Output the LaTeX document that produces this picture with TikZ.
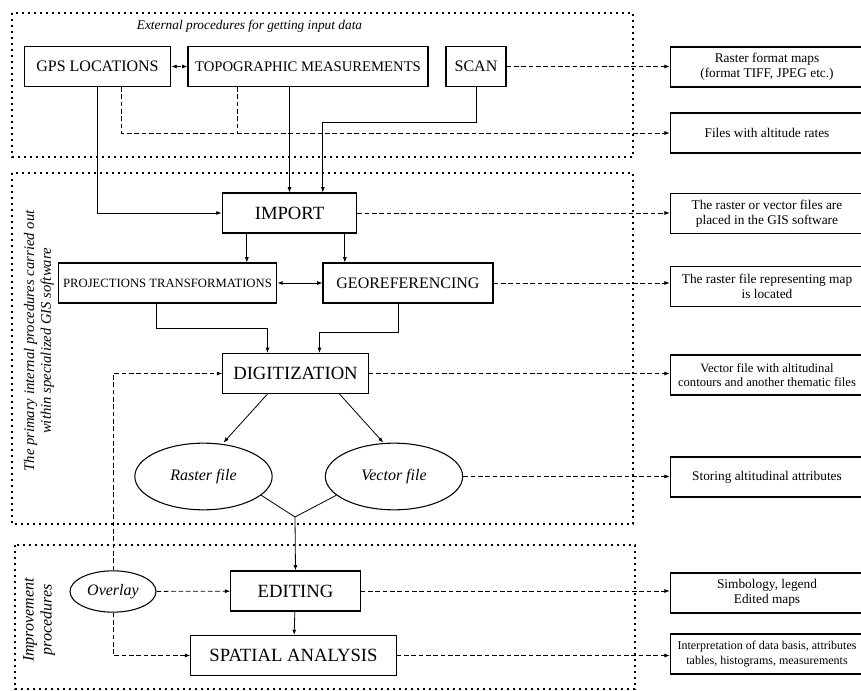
\documentclass[tikz,border=0pt]{standalone}
\usepackage{fontspec}
\setmainfont{Liberation Serif}
\usetikzlibrary{arrows.meta,shapes.geometric}
\tikzset{
  box/.style={draw, line width=0.8pt, minimum height=30pt, inner sep=1pt},
  mid/.style={box, font=\fontsize{12}{14}\selectfont},
  big/.style={box, font=\fontsize{14}{16}\selectfont},
  note/.style={draw, line width=0.8pt, align=center, minimum width=145pt, minimum height=30pt, inner sep=1pt, font=\fontsize{10}{11.5}\selectfont},
  oval/.style={draw, ellipse, line width=0.8pt, inner sep=0pt, font=\fontsize{12}{14}\selectfont\itshape},
  arr/.style={line width=0.6pt, -{Latex[length=4pt,width=3pt]}},
  twoway/.style={line width=0.6pt, {Latex[length=4pt,width=3pt]}-{Latex[length=4pt,width=3pt]}},
  dsh/.style={line width=0.6pt, dash pattern=on 3.5pt off 2pt},
  region/.style={line width=1.6pt, dash pattern=on 1.8pt off 2.7pt},
}
\begin{document}
\begin{tikzpicture}[x=0.75pt,y=-0.75pt]
% units are px of an 861 x 691 sheet, y counted downwards
\useasboundingbox (0,0) rectangle (861,691);
\draw[region] (12,13) rectangle (633,157);
\draw[region] (12,173) rectangle (633,524);
\draw[region] (15,545) rectangle (635,689);
\node[font=\fontsize{10}{12}\selectfont\itshape] (ttl) at (249.5,26) {External procedures for getting input data};
\node[rotate=90, align=center, font=\fontsize{11}{12.5}\selectfont\itshape] (lblgis) at (39,341) {The primary internal procedures carried out\\within specialized GIS software};
\node[rotate=90, align=center, font=\fontsize{12}{13.5}\selectfont\itshape] (lblimp) at (39,620) {Improvement\\procedures};
% input data
\node[mid, minimum width=110pt] (gps) at (97.5,66.5) {GPS LOCATIONS};
\node[box, minimum width=180pt, font=\fontsize{11}{13}\selectfont] (topo) at (308,66.5) {TOPOGRAPHIC MEASUREMENTS};
\node[mid, minimum width=45pt] (scan) at (476,66.5) {SCAN};
% GIS software
\node[big, minimum width=101pt] (import) at (289.5,213) {IMPORT};
\node[box, minimum width=164pt, font=\fontsize{9.5}{11}\selectfont] (proj) at (167.5,283) {PROJECTIONS TRANSFORMATIONS};
\node[mid, minimum width=127.5pt] (geo) at (408,283) {GEOREFERENCING};
\node[big, minimum width=109pt] (digit) at (295.5,373.5) {DIGITIZATION};
\node[oval, minimum width=103pt, minimum height=50pt] (raster) at (203.5,476.5) {Raster file};
\node[oval, minimum width=103pt, minimum height=50pt] (vector) at (394,476.5) {Vector file};
\coordinate (jn) at (295,517);
% improvement
\node[oval, minimum width=64.5pt, minimum height=31pt] (overlay) at (113,591.5) {Overlay};
\node[big, minimum width=97pt] (edit) at (295.5,591) {EDITING};
\node[big, minimum width=154pt] (spatial) at (293.5,655.5) {SPATIAL ANALYSIS};
% results on the right
\node[note] (r1) at (767,67) {Raster format maps\\(format TIFF, JPEG etc.)};
\node[note] (r2) at (767,133) {Files with altitude rates};
\node[note] (r3) at (767,213.5) {The raster or vector files are\\placed in the GIS software};
\node[note] (r4) at (767,286.5) {The raster file representing map\\is located};
\node[note, font=\fontsize{9.5}{11}\selectfont] (r5) at (767,375) {Vector file with altitudinal\\contours and another thematic files};
\node[note] (r6) at (767,477) {Storing altitudinal attributes};
\node[note] (r7) at (767,593) {Simbology, legend\\Edited maps};
\node[note, font=\fontsize{9}{11}\selectfont] (r8) at (767,654) {Interpretation of data basis, attributes\\tables, histograms, measurements};
% solid flow
\draw[arr] (gps.south) |- (import.west);
\draw[arr] (topo.south -| import.north) -- (import.north);
\draw[arr] (scan.south) -- ++(0,35) -| ([xshift=25pt]import.north);
\draw[arr] ([xshift=-32pt]import.south) coordinate (ip) -- (ip |- proj.north);
\draw[arr] ([xshift=41.5pt]import.south) coordinate (ig) -- (ig |- geo.north);
\draw[twoway] (proj) -- (geo);
\draw[arr] ([xshift=-8pt]proj.south) -- ++(0,25) -| ([xshift=-21pt]digit.north);
\draw[arr] ([xshift=-7.5pt]geo.south) -- ++(0,29) -| ([xshift=18pt]digit.north);
\draw[arr] ([xshift=-21pt]digit.south) -- ([xshift=15pt]raster.north);
\draw[arr] ([xshift=33pt]digit.south) -- ([xshift=-8pt]vector.north);
\draw[line width=0.6pt] (raster.-18) -- (jn) -- (vector.198);
\draw[arr] (jn) -- (edit.north);
\draw[arr] (edit) -- (spatial);
% dashed links
\draw[dsh, twoway] (gps) -- (topo);
\draw[dsh, arr] (scan.east) -- (scan.east -| r1.west);
\coordinate (tp) at ([xshift=-53pt]topo.south);
\draw[dsh, arr] ([xshift=18pt]gps.south) |- (r2.west);
\draw[dsh] (tp) -- (tp |- r2.west);
\draw[dsh, arr] (import.east) -- (import.east -| r3.west);
\draw[dsh, arr] (geo.east) -- (geo.east -| r4.west);
\draw[dsh, arr] (digit.east) -- (digit.east -| r5.west);
\draw[dsh, arr] (vector.east) -- (vector.east -| r6.west);
\draw[dsh, arr] (overlay.north) |- (digit.west);
\draw[dsh, arr] (overlay) -- (edit);
\draw[dsh, arr] (overlay.south) |- (spatial.west);
\draw[dsh, arr] (edit.east) -- (edit.east -| r7.west);
\draw[dsh, arr] (spatial.east) -- (spatial.east -| r8.west);
\end{tikzpicture}
\end{document}
